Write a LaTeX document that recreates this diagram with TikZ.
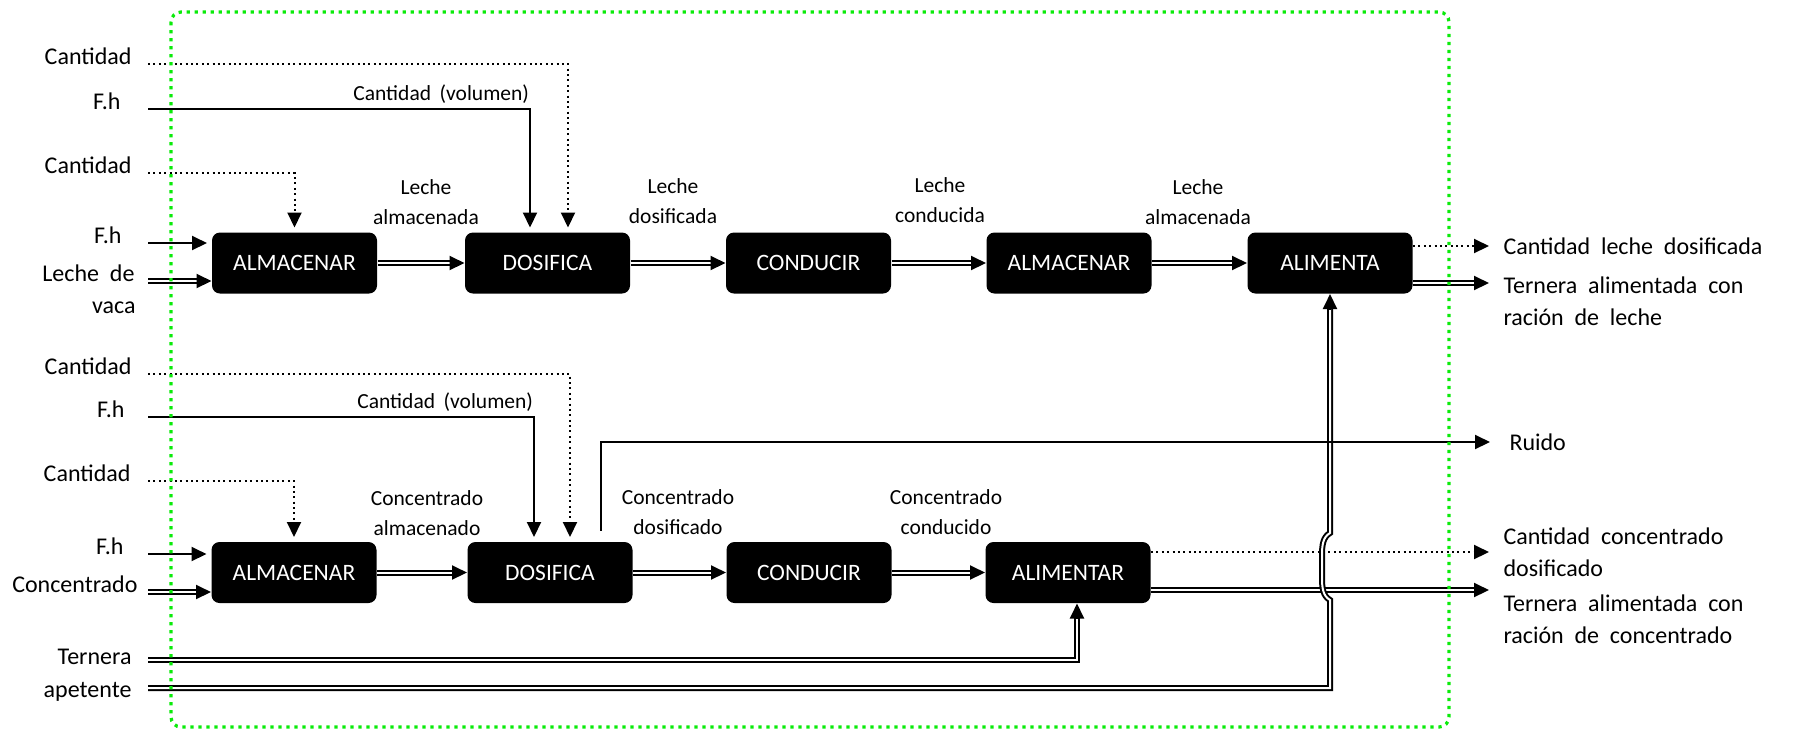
\documentclass[tikz,border=0pt]{standalone}
\usepackage{fontspec}
\setmainfont{Carlito}
\usetikzlibrary{arrows.meta,calc}
\definecolor{frameGreen}{RGB}{10,235,10}
\newcommand\lblfnt{\fontsize{9.6}{12.8}\selectfont\spaceskip=0.45em\relax}
\newcommand\midfnt{\fontsize{8.6}{11.8}\selectfont\spaceskip=0.4em\relax}
\newcommand\boxfnt{\fontsize{9.4}{11}\selectfont}
% solid arrow head placed at the end of a double line
\newcommand\dtip[2]{\draw[headonly] ([#1]#2) -- (#2);}
\tikzset{
  lbl/.style={font=\lblfnt, inner sep=0pt, text=black},
  mid/.style={font=\midfnt, align=center, inner sep=0pt},
  proc/.style={rectangle, rounded corners=3.2pt, fill=black, minimum width=66pt,
    minimum height=24.4pt, inner sep=0pt, text=white, font=\boxfnt},
  wire/.style={line width=0.8pt},
  arr/.style={wire, -{Triangle[length=6pt,width=5.6pt]}},
  gap/.style={shorten >=1.8pt},
  dots/.style={wire, dash pattern=on 0.8pt off 1.35pt},
  dbl/.style={line width=0.8pt, double=white, double distance=0.8pt, shorten >=4pt},
  headonly/.style={line width=0.8pt, -{Triangle[length=6pt,width=5.6pt]}},
}
\begin{document}
\begin{tikzpicture}[x=0.4pt,y=-0.4pt]
\useasboundingbox (0,0) rectangle (1794,729);

% process boxes, milk line
\node[proc] (alm1) at (294.5,263) {ALMACENAR};
\node[proc] (dos1) at (547.5,263) {DOSIFICA};
\node[proc] (con1) at (808.5,263) {CONDUCIR};
\node[proc] (alm3) at (1069,263) {ALMACENAR};
\node[proc] (ali1) at (1330,263) {ALIMENTA};
% process boxes, concentrate line
\node[proc] (alm2) at (294,572.5) {ALMACENAR};
\node[proc] (dos2) at (550,572.5) {DOSIFICA};
\node[proc] (con2) at (809,572.5) {CONDUCIR};
\node[proc] (ali2) at (1068,572.5) {ALIMENTAR};

% inputs on the left
\coordinate (lx) at (148,0);
\node[lbl, anchor=base east] (q1) at (132,64) {Cantidad};
\node[lbl, anchor=base east] (h1) at (121,109) {F.h};
\node[lbl, anchor=base east] (q2) at (132,173) {Cantidad};
\node[lbl, anchor=base east] (h2) at (122,243) {F.h};
\node[lbl, anchor=base east] (v1) at (135,281) {Leche de};
\node[lbl, anchor=base east] (v2) at (136,313) {vaca};
\node[lbl, anchor=base east] (q3) at (132,374) {Cantidad};
\node[lbl, anchor=base east] (h3) at (125,417) {F.h};
\node[lbl, anchor=base east] (q4) at (131,481) {Cantidad};
\node[lbl, anchor=base east] (h4) at (124,554) {F.h};
\node[lbl, anchor=base east] (cc) at (138,592) {Concentrado};
\node[lbl, anchor=base east] (t1) at (132,664) {Ternera};
\node[lbl, anchor=base east] (t2) at (132,697) {apetente};

% flow labels between boxes
\node[mid] (m1) at (426,202) {Leche\\almacenada};
\node[mid] (m2) at (673,201) {Leche\\dosificada};
\node[mid] (m3) at (940,200) {Leche\\conducida};
\node[mid] (m4) at (1198,202) {Leche\\almacenada};
\node[mid] (m5) at (427,513) {Concentrado\\almacenado};
\node[mid] (m6) at (678,512) {Concentrado\\dosificado};
\node[mid] (m7) at (946,512) {Concentrado\\conducido};

% outputs on the right
\node[lbl, anchor=west, inner xsep=5.6pt] (cld) at (1489,246) {Cantidad leche dosificada};
\node[lbl, anchor=west, align=left] (tr1) at (1503,301) {Ternera alimentada con\\ración de leche};
\node[lbl, anchor=west, inner xsep=7.6pt] (ruido) at (1490,442) {Ruido};
\node[lbl, anchor=west, align=left, inner xsep=5.6pt] (ccd) at (1489,552) {Cantidad concentrado\\dosificado};
\node[lbl, anchor=west, align=left] (tr2) at (1503,619) {Ternera alimentada con\\ración de concentrado};
\coordinate (o2) at (1489,283);
\coordinate (o5) at (1489,590);

% milk line: control and energy inputs
\draw[dots, arr, gap] (q1.base east -| lx) -| ($(dos1.north)+(20.5,0)$);
\draw[arr, gap] (h1.base east -| lx) -| node[mid, pos=0.5, anchor=south east, inner ysep=2pt] (vol1) {Cantidad (volumen)} ($(dos1.north)+(-17.5,0)$);
\draw[dots, arr, gap] (q2.base east -| lx) -| (alm1.north);
\draw[arr, gap] (h2.base east -| lx) -- (h2.base east -| alm1.west);
\coordinate (v1e) at (v1.base east -| alm1.west);
\draw[dbl] (v1.base east -| lx) -- (v1e); \dtip{xshift=-6pt}{v1e}

% milk line: material flow
\draw[dbl] (alm1.east) -- (dos1.west); \dtip{xshift=-6pt}{dos1.west}
\draw[dbl] (dos1.east) -- (con1.west); \dtip{xshift=-6pt}{con1.west}
\draw[dbl] (con1.east) -- (alm3.west); \dtip{xshift=-6pt}{alm3.west}
\draw[dbl] (alm3.east) -- (ali1.west); \dtip{xshift=-6pt}{ali1.west}
\draw[dots, arr] (ali1.east |- cld.west) -- (cld.west);
\draw[dbl] (ali1.east |- o2) -- (o2); \dtip{xshift=-6pt}{o2}

% concentrate line: control and energy inputs
\draw[dots, arr, gap] (q3.base east -| lx) -| ($(dos2.north)+(20,0)$);
\draw[arr, gap] (h3.base east -| lx) -| node[mid, pos=0.5, anchor=south east, inner ysep=2pt] (vol2) {Cantidad (volumen)} ($(dos2.north)+(-16,0)$);
\draw[dots, arr, gap] (q4.base east -| lx) -| (alm2.north);
\draw[arr, gap] (h4.base east -| lx) -- (h4.base east -| alm2.west);
\coordinate (cce) at (cc.base east -| alm2.west);
\draw[dbl] (cc.base east -| lx) -- (cce); \dtip{xshift=-6pt}{cce}

% concentrate line: material flow
\draw[dbl] (alm2.east) -- (dos2.west); \dtip{xshift=-6pt}{dos2.west}
\draw[dbl] (dos2.east) -- (con2.west); \dtip{xshift=-6pt}{con2.west}
\draw[dbl] (con2.east) -- (ali2.west); \dtip{xshift=-6pt}{ali2.west}
\draw[dots, arr] (ali2.east |- ccd.west) -- (ccd.west);
\draw[dbl] (ali2.east |- o5) -- (o5); \dtip{xshift=-6pt}{o5}

% calf inputs
\coordinate (tl) at (148,660);
\coordinate (al) at (148,688);
\coordinate (tin) at ($(ali2.south)+(9,0)$);
\draw[dbl] (tl) -| (tin); \dtip{yshift=-6pt}{tin}
\coordinate (jt) at (ali1.south |- 0,600);
\coordinate (jb) at (ali1.south |- 0,533);
\draw[dbl] (al) -- (al -| jt) -- (jt)
  .. controls +(-7,-4) and +(0,10) .. ($(jt)+(-8,-22)$)
  -- ($(jb)+(-8,22)$)
  .. controls +(0,-10) and +(-7,4) .. (jb) -- (ali1.south);
\dtip{yshift=-6pt}{ali1.south}

% noise output
\coordinate (rs) at ($(dos2.north)+(51,-11)$);
\draw[arr] (rs) |- (ruido.west);

% system boundary
\draw[frameGreen, line width=1.3pt, dash pattern=on 1.3pt off 1.9pt, rounded corners=4pt]
  (171,12) rectangle (1449,727);
\end{tikzpicture}
\end{document}
